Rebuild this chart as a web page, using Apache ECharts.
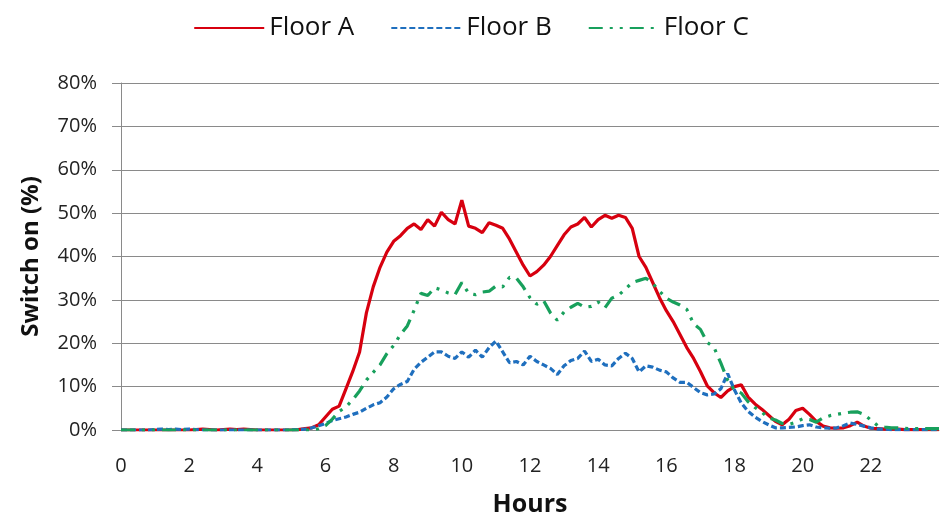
<!DOCTYPE html>
<html>
<head>
<meta charset="utf-8">
<script src="https://cdn.jsdelivr.net/npm/echarts@6/dist/echarts.min.js"></script>
<style>
  html, body { margin: 0; padding: 0; background: #fff; }
  #chart { width: 942px; height: 522px; }
</style>
</head>
<body>
<div id="chart"></div>
<script>
// samples every 0.2 h, from 0 to 24
const STEP = 0.2;
const xTicks = ['0', '2', '4', '6', '8', '10', '12', '14', '16', '18', '20', '22'];

const floorA = [
  0, 0, 0, 0, 0, 0, 0, 0, 0, 0,
  0, 0.1, 0.2, 0.1, 0, 0.1, 0.2, 0.1, 0.2, 0.1,
  0, 0, 0, 0, 0, 0, 0.1, 0.3, 0.5, 1.2,
  3.0, 4.8, 5.5, 9.5, 13.5, 18.0, 27.0, 33.0, 37.5, 41.0,
  43.5, 44.8, 46.5, 47.5, 46.2, 48.5, 47.0, 50.2, 48.5, 47.5,
  53.0, 47.0, 46.5, 45.5, 47.8, 47.2, 46.5, 44.0, 41.0, 38.0,
  35.5, 36.5, 38.0, 40.0, 42.5, 45.0, 46.8, 47.5, 49.0, 46.8,
  48.5, 49.5, 48.8, 49.5, 49.0, 46.5, 40.0, 37.5, 34.0, 30.5,
  27.5, 25.0, 22.0, 19.0, 16.5, 13.5, 10.2, 8.6, 7.5, 9.0,
  10.0, 10.4, 7.6, 6.0, 4.8, 3.4, 2.0, 1.2, 2.5, 4.5,
  5.0, 3.6, 2.0, 0.9, 0.5, 0.4, 0.5, 1.0, 1.8, 0.9,
  0.4, 0.3, 0.2, 0.2, 0.2, 0.1, 0.1, 0.1, 0.1, 0.1,
  0.1
];

const floorB = [
  0, 0, 0, 0, 0, 0.1, 0.2, 0.1, 0.2, 0.1,
  0.2, 0.1, 0, 0, 0, 0, 0, 0, 0, 0,
  0, 0, 0, 0, 0, 0, 0.1, 0.2, 0.5, 1.0,
  1.5, 2.2, 2.6, 3.0, 3.6, 4.1, 5.0, 5.8, 6.3, 7.6,
  9.5, 10.5, 11.2, 14.0, 15.6, 16.8, 18.0, 18.0, 17.0, 16.5,
  18.0, 16.8, 18.4, 16.8, 19.0, 20.5, 18.0, 15.5, 15.8, 15.0,
  17.0, 15.8, 15.0, 14.2, 12.8, 14.8, 16.0, 16.5, 18.2, 15.8,
  16.3, 15.0, 14.8, 16.5, 17.7, 16.5, 13.4, 14.8, 14.5, 13.8,
  13.4, 12.0, 11.0, 11.0, 9.8, 8.6, 8.1, 8.3, 9.5, 13.0,
  9.2, 6.2, 4.3, 3.0, 2.0, 1.2, 0.5, 0.5, 0.6, 0.7,
  1.0, 1.2, 0.7, 0.5, 0.4, 0.5, 1.0, 1.6, 1.3, 0.9,
  0.5, 0.2, 0.2, 0.1, 0.1, 0.1, 0.1, 0.1, 0.1, 0.1,
  0.1
];

const floorC = [
  0, 0, 0, 0, 0, 0, 0, 0, 0, 0,
  0, 0, 0, 0, 0, 0, 0, 0, 0, 0,
  0, 0, 0, 0, 0, 0, 0, 0, 0, 0.3,
  1.0, 2.5, 4.3, 5.3, 7.0, 9.0, 11.5, 13.3, 15.0, 17.6,
  19.5, 22.0, 24.0, 27.6, 31.5, 31.0, 32.8, 32.3, 31.6, 31.2,
  34.0, 31.5, 31.2, 31.8, 32.0, 33.2, 33.0, 35.2, 35.0, 33.0,
  30.5, 29.0, 29.8, 27.0, 25.3, 27.2, 28.3, 29.2, 28.3, 28.5,
  29.5, 28.2, 30.4, 31.1, 32.5, 34.0, 34.5, 35.0, 33.8, 32.0,
  30.4, 29.5, 28.8, 27.8, 24.5, 23.2, 20.2, 19.0, 15.4, 11.5,
  9.2, 8.5, 6.5, 5.2, 4.1, 2.8, 2.3, 1.5, 1.3, 1.8,
  2.6, 2.4, 1.8, 2.8, 3.3, 3.6, 3.9, 4.1, 4.2, 3.6,
  2.3, 1.0, 0.7, 0.5, 0.5, 0.4, 0.3, 0.3, 0.3, 0.3,
  0.3
];

const FONT = '"Open Sans", "Noto Sans", sans-serif';
const GRID_COLOR = '#8a8a8a';

const toPoints = (vals) => vals.map((v, i) => [+(i * STEP).toFixed(1), v]);

const chart = echarts.init(document.getElementById('chart'), null, { renderer: 'canvas' });

const option = {
  backgroundColor: '#ffffff',
  animation: false,
  textStyle: { fontFamily: FONT, color: '#1a1a1a' },
  legend: {
    top: 10,
    left: 'center',
    itemWidth: 70,
    itemHeight: 14,
    itemGap: 36,
    // hide the marker dot, keep the line sample
    itemStyle: { opacity: 0 },
    textStyle: { fontFamily: FONT, fontSize: 26, color: '#111' },
    data: ['Floor A', 'Floor B', 'Floor C']
  },
  grid: {
    left: 121,
    right: -6,
    top: 83,
    bottom: 92
  },
  xAxis: {
    type: 'value',
    min: 0,
    max: 24,
    interval: 2,
    name: 'Hours',
    nameLocation: 'middle',
    nameGap: 62,
    nameTextStyle: { fontFamily: FONT, fontSize: 25, fontWeight: 'bold', color: '#111' },
    axisLine: { show: true, lineStyle: { color: GRID_COLOR, width: 1 } },
    axisTick: { show: false },
    splitLine: { show: false },
    axisLabel: {
      margin: 26,
      fontFamily: FONT,
      fontSize: 20,
      color: '#222',
      formatter: (v) => xTicks[v / 2] || ''
    }
  },
  yAxis: {
    type: 'value',
    min: 0,
    max: 80,
    interval: 10,
    name: 'Switch on (%)',
    nameLocation: 'middle',
    nameGap: 78,
    nameTextStyle: { fontFamily: FONT, fontSize: 24, fontWeight: 'bold', color: '#111' },
    axisLine: { show: true, lineStyle: { color: GRID_COLOR, width: 1 } },
    axisTick: { show: true, length: 9, lineStyle: { color: GRID_COLOR } },
    splitLine: { show: true, lineStyle: { color: GRID_COLOR, width: 1 } },
    axisLabel: {
      margin: 24,
      fontFamily: FONT,
      fontSize: 20,
      color: '#222',
      formatter: '{value}%'
    }
  },
  series: [
    {
      name: 'Floor A',
      type: 'line',
      data: toPoints(floorA),
      symbol: 'none',
      color: '#d7000f',
      lineStyle: { color: '#d7000f', width: 3.2 }
    },
    {
      name: 'Floor B',
      type: 'line',
      data: toPoints(floorB),
      symbol: 'none',
      color: '#1f6fbe',
      lineStyle: { color: '#1f6fbe', width: 3.2, type: [6, 3] }
    },
    {
      name: 'Floor C',
      type: 'line',
      data: toPoints(floorC),
      symbol: 'none',
      color: '#18a05c',
      lineStyle: { color: '#18a05c', width: 3.2, type: [14, 7, 3, 7, 3, 7] }
    }
  ]
};

chart.setOption(option);
</script>
</body>
</html>
